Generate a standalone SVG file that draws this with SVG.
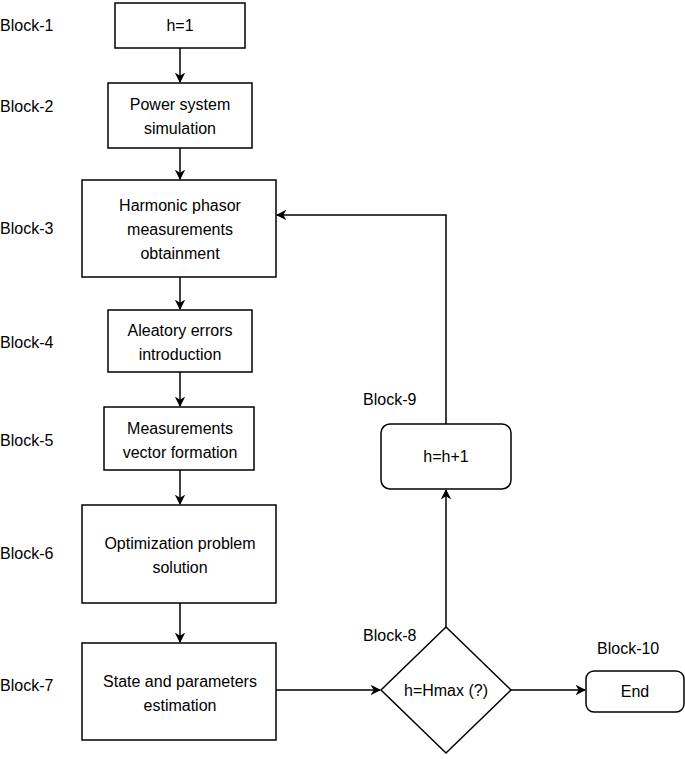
<svg xmlns="http://www.w3.org/2000/svg" width="685" height="759" viewBox="0 0 685 759">
<style>
.b{fill:#fff;stroke:#000;stroke-width:1.5}
.t{font-family:"Liberation Sans",Arial,sans-serif;font-size:16px;fill:#000}
.c{text-anchor:middle}
.e{fill:none;stroke:#000;stroke-width:1.5;marker-end:url(#a)}
</style>
<defs><marker id="a" viewBox="0 0 10 10" refX="9" refY="5" markerWidth="7" markerHeight="7" orient="auto"><path d="M0,0L10,5L0,10L3,5Z" fill="#000"/></marker></defs>
<rect width="685" height="759" fill="#fff"/>
<g id="edges">
<path class="e" d="M180,48V82"/>
<path class="e" d="M180,148V179"/>
<path class="e" d="M180,277V309"/>
<path class="e" d="M180,372V406"/>
<path class="e" d="M180,470V504"/>
<path class="e" d="M180,603V642"/>
<path class="e" d="M276,690H380"/>
<path class="e" d="M446,627V490"/>
<path class="e" d="M446,424V215H277"/>
<path class="e" d="M511,690H585"/>
</g>
<g id="b1"><rect class="b" x="115" y="3" width="130" height="45"/><text class="t c" x="180" y="31">h=1</text><text class="t" x="0" y="31">Block-1</text></g>
<g id="b2"><rect class="b" x="108" y="83" width="144" height="65"/><text class="t c" x="180" y="110">Power system</text><text class="t c" x="180" y="134">simulation</text><text class="t" x="0" y="112">Block-2</text></g>
<g id="b3"><rect class="b" x="82" y="180" width="194" height="97"/><text class="t c" x="180" y="211">Harmonic phasor</text><text class="t c" x="180" y="235">measurements</text><text class="t c" x="180" y="259">obtainment</text><text class="t" x="0" y="234">Block-3</text></g>
<g id="b4"><rect class="b" x="108" y="310" width="144" height="62"/><text class="t c" x="180" y="336">Aleatory errors</text><text class="t c" x="180" y="360">introduction</text><text class="t" x="0" y="348">Block-4</text></g>
<g id="b5"><rect class="b" x="104" y="407" width="150" height="63"/><text class="t c" x="180" y="434">Measurements</text><text class="t c" x="180" y="458">vector formation</text><text class="t" x="0" y="446">Block-5</text></g>
<g id="b6"><rect class="b" x="82" y="505" width="194" height="98"/><text class="t c" x="180" y="549">Optimization problem</text><text class="t c" x="180" y="573">solution</text><text class="t" x="0" y="559">Block-6</text></g>
<g id="b7"><rect class="b" x="82" y="643" width="194" height="97"/><text class="t c" x="180" y="687">State and parameters</text><text class="t c" x="180" y="711">estimation</text><text class="t" x="0" y="691">Block-7</text></g>
<g id="b8"><path class="b" d="M446,627L511,690L446,753L381,690Z"/><text class="t c" x="446" y="696">h=Hmax (?)</text><text class="t" x="363" y="641">Block-8</text></g>
<g id="b9"><rect class="b" x="381" y="424" width="130" height="65" rx="9"/><text class="t c" x="446" y="462">h=h+1</text><text class="t" x="363" y="405">Block-9</text></g>
<g id="b10"><rect class="b" x="586" y="671" width="98" height="41" rx="8"/><text class="t c" x="635" y="697">End</text><text class="t" x="597" y="654">Block-10</text></g>
</svg>
